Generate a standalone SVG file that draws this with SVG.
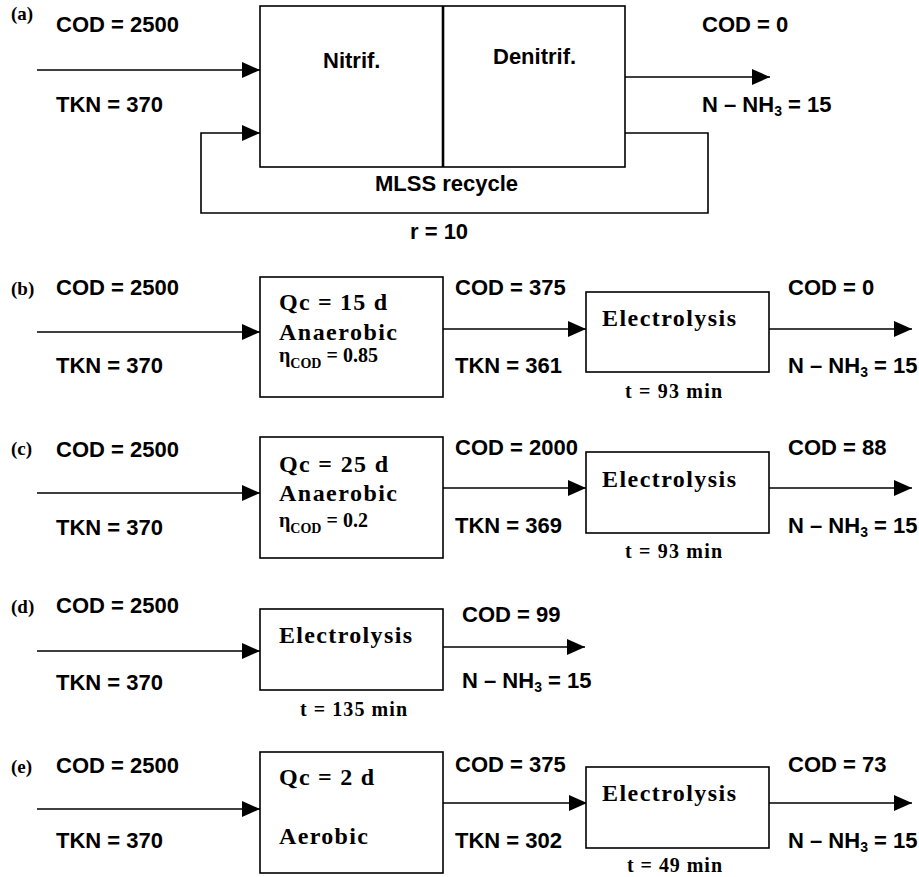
<svg xmlns="http://www.w3.org/2000/svg" width="919" height="877" viewBox="0 0 919 877">
<style>
.s{font-family:"Liberation Sans",Arial,sans-serif;font-weight:bold;font-size:22px;fill:#000}
.t{font-family:"Liberation Serif","Times New Roman",serif;font-weight:bold;font-size:24px;fill:#000}
.lab{font-family:"Liberation Serif","Times New Roman",serif;font-weight:bold;font-size:19px;fill:#000}
.tm{font-family:"Liberation Serif","Times New Roman",serif;font-weight:bold;font-size:20px;fill:#000}
.eta{font-family:"Liberation Serif","Times New Roman",serif;font-weight:bold;font-size:20px;fill:#000}
.sub{font-size:14px}
.box{fill:#fff;stroke:#000;stroke-width:1.6}
.ln{fill:none;stroke:#000;stroke-width:1.6;marker-end:url(#ah)}
</style>
<defs>
<marker id="ah" markerUnits="userSpaceOnUse" markerWidth="18" markerHeight="16" refX="18" refY="8" orient="auto" viewBox="0 0 18 16">
<path d="M0,0 L18,8 L0,16 Z" fill="#000"/>
</marker>
</defs>
<rect width="919" height="877" fill="#fff"/>

<g id="connectors">
<line class="ln" x1="37" y1="70" x2="260" y2="70"/>
<line class="ln" x1="625" y1="77" x2="770" y2="77"/>
<polyline class="ln" points="625,133 708,133 708,213 201,213 201,133 260,133"/>
<line class="ln" x1="37" y1="332" x2="260" y2="332"/>
<line class="ln" x1="443" y1="329" x2="586" y2="329"/>
<line class="ln" x1="769" y1="329" x2="912" y2="329"/>
<line class="ln" x1="37" y1="493" x2="260" y2="493"/>
<line class="ln" x1="443" y1="488" x2="586" y2="488"/>
<line class="ln" x1="769" y1="488" x2="912" y2="488"/>
<line class="ln" x1="37" y1="651" x2="260" y2="651"/>
<line class="ln" x1="443" y1="647" x2="585" y2="647"/>
<line class="ln" x1="37" y1="809" x2="260" y2="809"/>
<line class="ln" x1="443" y1="803" x2="587" y2="803"/>
<line class="ln" x1="769" y1="803" x2="912" y2="803"/>
</g>

<g id="a-labels">
<text class="lab" x="11" y="20">(a)</text>
<text class="s" x="56" y="32">COD = 2500</text>
<text class="s" x="56" y="112">TKN = 370</text>
<text class="s" x="702" y="32">COD = 0</text>
<text class="s" x="702" y="112">N – NH<tspan class="sub" dy="4">3</tspan><tspan dy="-4"> = 15</tspan></text>
<text class="s" x="375" y="191">MLSS recycle</text>
<text class="s" x="410" y="239">r = 10</text>
</g>
<g id="a-reactor">
<rect class="box" x="260" y="6" width="365" height="161"/>
<line x1="443" y1="6" x2="443" y2="167" stroke="#000" stroke-width="2.6"/>
<text class="s" x="323" y="68">Nitrif.</text>
<text class="s" x="493" y="64">Denitrif.</text>
</g>

<g id="b-labels">
<text class="lab" x="11" y="295">(b)</text>
<text class="s" x="56" y="295">COD = 2500</text>
<text class="s" x="56" y="373">TKN = 370</text>
<text class="s" x="455" y="295">COD = 375</text>
<text class="s" x="455" y="373">TKN = 361</text>
<text class="s" x="788" y="295">COD = 0</text>
<text class="s" x="788" y="373">N – NH<tspan class="sub" dy="4">3</tspan><tspan dy="-4"> = 15</tspan></text>
</g>
<g id="b-anaerobic">
<rect class="box" x="260" y="277" width="183" height="120"/>
<text class="t" x="279" y="310" textLength="108" lengthAdjust="spacing">Qc = 15 d</text>
<text class="t" x="279" y="340" textLength="118" lengthAdjust="spacing">Anaerobic</text>
<text class="eta" x="279" y="362">η<tspan class="sub" dy="6">COD</tspan><tspan dy="-6"> = 0.85</tspan></text>
</g>
<g id="b-electrolysis">
<rect class="box" x="586" y="292" width="183" height="80"/>
<text class="t" x="602" y="326" textLength="134" lengthAdjust="spacing">Electrolysis</text>
<text class="tm" x="625" y="398" textLength="97" lengthAdjust="spacing">t = 93 min</text>
</g>

<g id="c-labels">
<text class="lab" x="11" y="455">(c)</text>
<text class="s" x="56" y="457">COD = 2500</text>
<text class="s" x="56" y="535">TKN = 370</text>
<text class="s" x="455" y="455">COD = 2000</text>
<text class="s" x="455" y="533">TKN = 369</text>
<text class="s" x="788" y="455">COD = 88</text>
<text class="s" x="788" y="533">N – NH<tspan class="sub" dy="4">3</tspan><tspan dy="-4"> = 15</tspan></text>
</g>
<g id="c-anaerobic">
<rect class="box" x="260" y="437" width="183" height="121"/>
<text class="t" x="279" y="472" textLength="109" lengthAdjust="spacing">Qc = 25 d</text>
<text class="t" x="279" y="501" textLength="118" lengthAdjust="spacing">Anaerobic</text>
<text class="eta" x="279" y="527">η<tspan class="sub" dy="6">COD</tspan><tspan dy="-6"> = 0.2</tspan></text>
</g>
<g id="c-electrolysis">
<rect class="box" x="586" y="452" width="183" height="81"/>
<text class="t" x="602" y="487" textLength="134" lengthAdjust="spacing">Electrolysis</text>
<text class="tm" x="625" y="558" textLength="97" lengthAdjust="spacing">t = 93 min</text>
</g>

<g id="d-labels">
<text class="lab" x="11" y="613">(d)</text>
<text class="s" x="56" y="613">COD = 2500</text>
<text class="s" x="56" y="690">TKN = 370</text>
<text class="s" x="462" y="622">COD = 99</text>
<text class="s" x="462" y="688">N – NH<tspan class="sub" dy="4">3</tspan><tspan dy="-4"> = 15</tspan></text>
</g>
<g id="d-electrolysis">
<rect class="box" x="260" y="609" width="183" height="81"/>
<text class="t" x="279" y="643" textLength="133" lengthAdjust="spacing">Electrolysis</text>
<text class="tm" x="300" y="716" textLength="107" lengthAdjust="spacing">t = 135 min</text>
</g>

<g id="e-labels">
<text class="lab" x="11" y="773">(e)</text>
<text class="s" x="56" y="773">COD = 2500</text>
<text class="s" x="56" y="848">TKN = 370</text>
<text class="s" x="455" y="772">COD = 375</text>
<text class="s" x="455" y="848">TKN = 302</text>
<text class="s" x="788" y="772">COD = 73</text>
<text class="s" x="788" y="848">N – NH<tspan class="sub" dy="4">3</tspan><tspan dy="-4"> = 15</tspan></text>
</g>
<g id="e-aerobic">
<rect class="box" x="260" y="752" width="183" height="121"/>
<text class="t" x="279" y="785" textLength="95" lengthAdjust="spacing">Qc = 2 d</text>
<text class="t" x="279" y="844" textLength="89" lengthAdjust="spacing">Aerobic</text>
</g>
<g id="e-electrolysis">
<rect class="box" x="586" y="767" width="183" height="81"/>
<text class="t" x="602" y="801" textLength="134" lengthAdjust="spacing">Electrolysis</text>
<text class="tm" x="627" y="872" textLength="95" lengthAdjust="spacing">t = 49 min</text>
</g>
</svg>
